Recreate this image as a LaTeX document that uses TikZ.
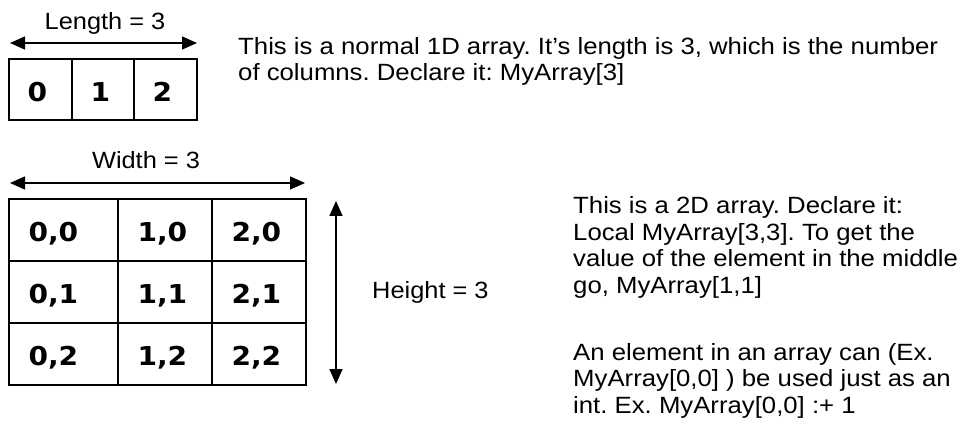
\documentclass[tikz,border=0pt]{standalone}
\usepackage{fontspec}
\setmainfont{Liberation Sans}
\newfontfamily\cellfont{DejaVu Sans}
\usetikzlibrary{arrows.meta}
\frenchspacing
\begin{document}
\begin{tikzpicture}[x=1pt,y=-1pt,
  cell/.style={draw, line width=1.4pt, inner sep=0pt, minimum height=62pt},
  digit/.style={anchor=base west, inner sep=0pt, xscale=1.08, font=\cellfont\bfseries\fontsize{26}{26}\selectfont},
  dimarrow/.style={line width=1.4pt, {Triangle[length=15pt,width=13pt]}-{Triangle[length=15pt,width=13pt]}},
  lbl/.style={inner sep=0pt, xscale=1.08, font=\fontsize{23.5}{26}\selectfont},
  body/.style={anchor=base west, inner sep=0pt, font=\fontsize{23.5}{26}\selectfont, xscale=1.095}]
\useasboundingbox (0,0) rectangle (963,430);

% 1D array
\node[cell, minimum width=63pt, minimum height=61pt] (a0) at (40.5,89.5) {};
\node[cell, minimum width=62pt, minimum height=61pt] (a1) at (103,89.5) {};
\node[cell, minimum width=63pt, minimum height=61pt] (a2) at (165.5,89.5) {};
\node[digit] (d0) at ([shift={(19,43)}]a0.north west) {0};
\node[digit] (d1) at ([shift={(19,43)}]a1.north west) {1};
\node[digit] (d2) at ([shift={(19,43)}]a2.north west) {2};

\coordinate (lenL) at (10,43);
\coordinate (lenR) at (197,43);
\draw[dimarrow] (lenL) -- (lenR);
\node[lbl, anchor=base] (lenlbl) at (105,30) {Length = 3};

\node[body] (t1a) at (238,55) {This is a normal 1D array. It’s length is 3, which is the number};
\node[body] (t1b) at (238,81) {of columns. Declare it: MyArray[3]};

% 2D array
\foreach \c/\cx/\w in {0/63.5/109, 1/165/94, 2/259/94}{
  \foreach \r/\ry in {0/230, 1/292, 2/354}{
    \node[cell, minimum width=\w pt] (g\c\r) at (\cx,\ry) {};
    \node[digit] (s\c\r) at ([shift={(20,43)}]g\c\r.north west) {\c,\r};
  }
}

\coordinate (widL) at (10,183);
\coordinate (widR) at (305,183);
\draw[dimarrow] (widL) -- (widR);
\node[lbl, anchor=base] (widlbl) at (146,169) {Width = 3};

\coordinate (hgtT) at (336,201);
\coordinate (hgtB) at (336,384);
\draw[dimarrow] (hgtT) -- (hgtB);
\node[lbl, anchor=base west] (hgtlbl) at (372,298) {Height = 3};

\node[body] (t2a) at (573,214) {This is a 2D array. Declare it:};
\node[body] (t2b) at (573,240.3) {Local MyArray[3,3]. To get the};
\node[body] (t2c) at (573,266.6) {value of the element in the middle};
\node[body] (t2d) at (573,293) {go, MyArray[1,1]};
\node[body] (t2e) at (573,360) {An element in an array can (Ex.};
\node[body] (t2f) at (573,386.5) {MyArray[0,0] ) be used just as an};
\node[body] (t2g) at (573,413) {int. Ex. MyArray[0,0] :+ 1};
\end{tikzpicture}
\end{document}
